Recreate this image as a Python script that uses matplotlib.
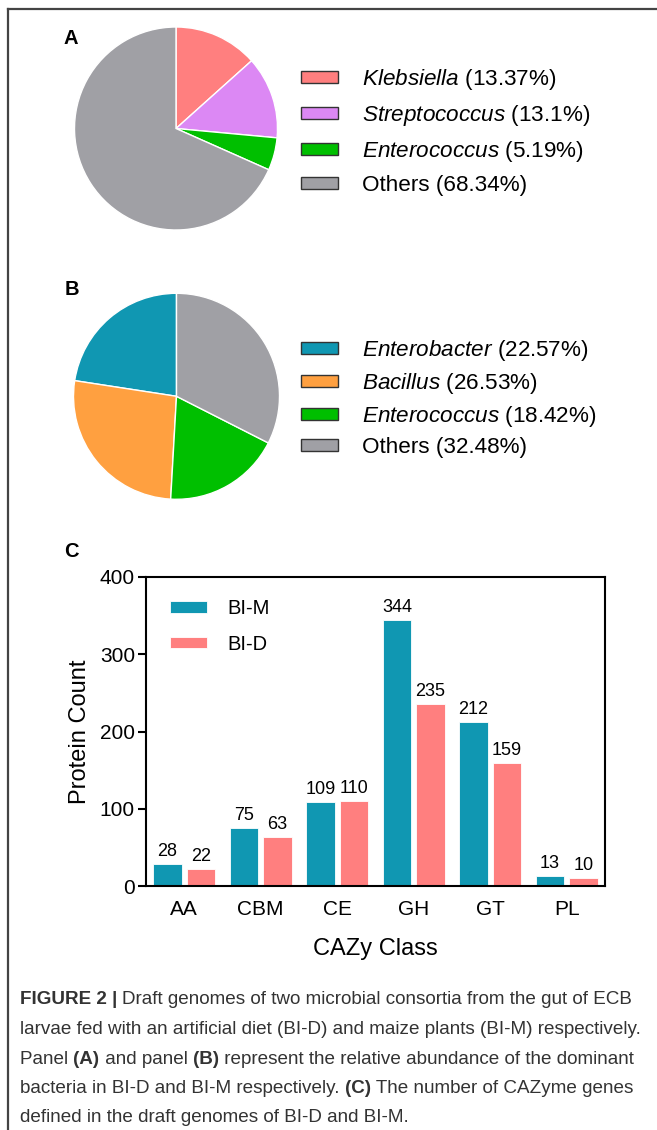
import matplotlib
matplotlib.use("Agg")
import matplotlib.pyplot as plt
from matplotlib.patches import Patch
from matplotlib.lines import Line2D

plt.rcParams['font.family'] = ['Liberation Sans', 'DejaVu Sans']
plt.rcParams['mathtext.fontset'] = 'custom'
plt.rcParams['mathtext.it'] = 'Liberation Sans:italic'
plt.rcParams['mathtext.rm'] = 'Liberation Sans'

# ---------------- data ----------------
pieA_names = ["Klebsiella", "Streptococcus", "Enterococcus", "Others"]
pieA_values = [13.37, 13.10, 5.19, 68.34]
pieA_italic = [True, True, True, False]
pieA_colors = ["#FF7F7F", "#DC88F4", "#00BF00", "#A0A0A5"]

pieB_names = ["Enterobacter", "Bacillus", "Enterococcus", "Others"]
pieB_values = [22.57, 26.53, 18.42, 32.48]
pieB_italic = [True, True, True, False]
pieB_colors = ["#1097B2", "#FFA040", "#00BF00", "#A0A0A5"]

cazy_classes = ["AA", "CBM", "CE", "GH", "GT", "PL"]
bi_m = [28, 75, 109, 344, 212, 13]
bi_d = [22, 63, 110, 235, 159, 10]
series_names = ["BI-M", "BI-D"]
series_colors = ["#1097B2", "#FF7F7F"]
y_ticks = [0, 100, 200, 300, 400]

caption_lines = [
    [("FIGURE 2 | ", True), ("Draft genomes of two microbial consortia from the gut of ECB", False)],
    [("larvae fed with an artificial diet (BI-D) and maize plants (BI-M) respectively.", False)],
    [("Panel ", False), ("(A)", True), (" and panel ", False), ("(B)", True),
     (" represent the relative abundance of the dominant", False)],
    [("bacteria in BI-D and BI-M respectively. ", False), ("(C)", True),
     (" The number of CAZyme genes", False)],
    [("defined in the draft genomes of BI-D and BI-M.", False)],
]

# ---------------- figure ----------------
W, H = 657, 1130
fig = plt.figure(figsize=(W / 100, H / 100), dpi=100)


def rect(x0, y0, x1, y1):
    """pixel box (top-left origin) -> figure fraction rect"""
    return [x0 / W, 1 - y1 / H, (x1 - x0) / W, (y1 - y0) / H]


def fmt_label(name, val, italic):
    v = f"{val:g}"
    if italic:
        return r"$\it{" + name + "}$" + f" ({v}%)"
    return f"{name} ({v}%)"


def draw_pie(center, r, values, colors, names, italics, counterclock, leg_top, leg_step):
    cx, cy = center
    ax = fig.add_axes(rect(cx - r, cy - r, cx + r, cy + r))
    ax.pie(values, colors=colors, startangle=90, counterclock=counterclock,
           wedgeprops=dict(edgecolor="white", linewidth=1.0))
    ax.set_xlim(-1, 1)
    ax.set_ylim(-1, 1)
    ax.set_aspect("equal")
    handles = [Patch(facecolor=c, edgecolor="#333333", linewidth=1.0) for c in colors]
    labels = [fmt_label(n, v, it) for n, v, it in zip(names, values, italics)]
    fs = 16.2
    fpx = fs * 100 / 72
    fig.legend(handles, labels, loc="upper left",
               bbox_to_anchor=(301 / W, 1 - leg_top / H),
               frameon=False, fontsize=fs,
               handlelength=37 / fpx, handleheight=11 / fpx,
               handletextpad=24 / fpx, labelspacing=(leg_step - 1.08 * fpx) / fpx,
               borderpad=0, borderaxespad=0)
    return ax


draw_pie((176, 128.5), 101.5, pieA_values, pieA_colors, pieA_names, pieA_italic,
         False, 67, 35.3)
draw_pie((176.5, 396.3), 103, pieB_values, pieB_colors, pieB_names, pieB_italic,
         True, 338, 32.3)

# panel labels
for lab, (x, y) in zip(["A", "B", "C"], [(64, 38.5), (65, 289.5), (64, 551.5)]):
    fig.text(x / W, 1 - y / H, lab, fontsize=14.5, fontweight="bold", va="center", ha="left")

# ---------------- bar chart ----------------
axc = fig.add_axes(rect(146, 577, 605, 886))
idx = list(range(len(cazy_classes)))
bw = 0.37
off = 0.22
b1 = axc.bar([i - off for i in idx], bi_m, width=bw, color=series_colors[0],
             edgecolor="white", linewidth=0.6, label=series_names[0])
b2 = axc.bar([i + off for i in idx], bi_d, width=bw, color=series_colors[1],
             edgecolor="white", linewidth=0.6, label=series_names[1])
axc.bar_label(b1, padding=3, fontsize=13)
axc.bar_label(b2, padding=3, fontsize=13)
axc.set_xlim(-0.5, len(cazy_classes) - 0.5)
axc.set_ylim(0, 400)
axc.set_yticks(y_ticks)
axc.set_xticks(idx)
axc.set_xticklabels(cazy_classes)
axc.tick_params(axis="y", direction="out", length=6, width=1.5, labelsize=15, pad=2)
axc.tick_params(axis="x", length=0, labelsize=15, pad=10)
for s in axc.spines.values():
    s.set_linewidth(1.5)
axc.set_ylabel("Protein Count", fontsize=17, labelpad=6)
axc.set_xlabel("CAZy Class", fontsize=17, labelpad=14)
fsb = 14.5
fpxb = fsb * 100 / 72
axc.legend(loc="upper left", bbox_to_anchor=((170 - 146) / 459, (886 - 599) / 309),
           frameon=False, fontsize=fsb, handlelength=37 / fpxb, handleheight=10 / fpxb,
           handletextpad=20 / fpxb, labelspacing=(37 - fpxb) / fpxb,
           borderpad=0, borderaxespad=0)

# ---------------- frame lines ----------------
fig.add_artist(Line2D([7.5 / W, 1.0], [1 - 8.5 / H, 1 - 8.5 / H], color="#444444", lw=1.6))
fig.add_artist(Line2D([7.5 / W, 7.5 / W], [1 - 8.5 / H, 0], color="#444444", lw=1.6))

# ---------------- caption ----------------
renderer = fig.canvas.get_renderer()
cap_fam = ['Liberation Sans Narrow', 'Liberation Sans', 'DejaVu Sans']
cap_fs = 13.0
cap_color = "#333333"
line_y = [1000, 1029.5, 1059, 1088.5, 1118]
x_start = 20


def draw_line(segs, y, fs):
    x = x_start
    for txt, bold in segs:
        t = fig.text(x / W, 1 - y / H, txt, fontsize=fs, family=cap_fam,
                     fontweight="bold" if bold else "normal", color=cap_color,
                     va="center", ha="left")
        bb = t.get_window_extent(renderer=renderer)
        x += bb.width
    return x


# fit first line to target width
probe_end = draw_line(caption_lines[0], -100, cap_fs)
for t in list(fig.texts):
    if t.get_position()[1] > 1.0:
        t.remove()
target = 636 - x_start
cap_fs = cap_fs * target / (probe_end - x_start)
for segs, y in zip(caption_lines, line_y):
    draw_line(segs, y, cap_fs)

fig.savefig("out.png", dpi=100)
